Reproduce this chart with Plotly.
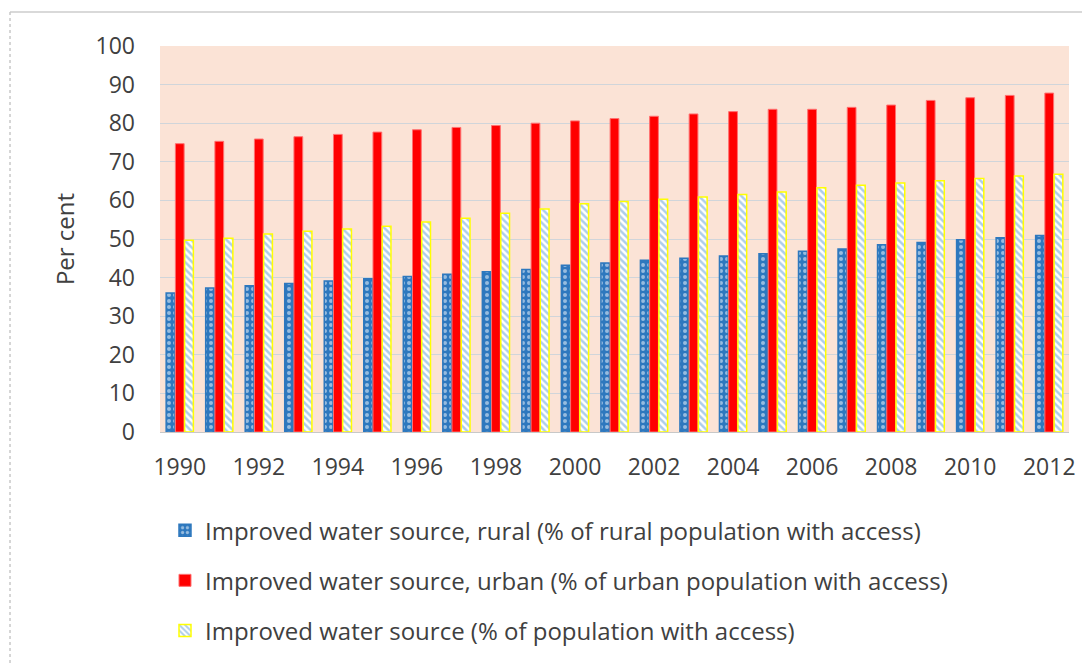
import plotly.graph_objects as go

years = list(range(1990, 2013))
tick_years = list(range(1990, 2013, 2))

rural = [36.0, 37.3, 37.9, 38.5, 39.1, 39.7, 40.3, 40.9, 41.5, 42.1, 43.2, 43.8,
         44.5, 45.0, 45.6, 46.2, 46.8, 47.4, 48.5, 49.1, 49.8, 50.3, 50.9]
urban = [74.7, 75.3, 75.9, 76.5, 77.1, 77.7, 78.3, 78.9, 79.4, 80.0, 80.6, 81.2,
         81.8, 82.4, 83.0, 83.6, 83.6, 84.1, 84.7, 85.9, 86.6, 87.2, 87.8]
total = [49.7, 50.2, 51.3, 52.0, 52.6, 53.3, 54.4, 55.4, 56.7, 57.8, 59.1, 59.7,
         60.3, 60.9, 61.5, 62.2, 63.3, 63.9, 64.5, 65.1, 65.7, 66.3, 66.8]

names = [
    "Improved water source, rural (% of rural population with access)",
    "Improved water source, urban (% of urban population with access)",
    "Improved water source (% of population with access)",
]

FONT = "Open Sans"
TXT = "#404040"

fig = go.Figure()
fig.add_trace(go.Bar(
    x=years, y=rural, name=names[0], legendgroup="a",
    marker=dict(color="#2E78BE", line=dict(color="#2E78BE", width=1.5),
                pattern=dict(shape=".", fillmode="overlay", fgcolor="white",
                             bgcolor="#2E78BE", size=6, solidity=0.35)),
))
fig.add_trace(go.Bar(
    x=years, y=urban, name=names[1], legendgroup="b",
    marker=dict(color="#FF0000", line=dict(color="#FF7070", width=1)),
))
fig.add_trace(go.Bar(
    x=years, y=total, name=names[2], legendgroup="c",
    marker=dict(color="white", line=dict(color="#FFFF00", width=1.5),
                pattern=dict(shape="\\", fillmode="overlay", fgcolor="#5B9BD5",
                             bgcolor="white", size=5, solidity=0.5)),
))

# outer chart frame
fig.add_shape(type="line", xref="paper", yref="paper",
              x0=-0.165, x1=1.1, y0=1.088, y1=1.088,
              line=dict(color="#D9D9D9", width=2))
fig.add_shape(type="line", xref="paper", yref="paper",
              x0=-0.165, x1=-0.165, y0=1.088, y1=-0.7,
              line=dict(color="#C8C8C8", width=1.5, dash="dot"))

fig.update_layout(
    width=1082, height=657,
    margin=dict(l=152, r=21, t=38, b=233),
    paper_bgcolor="white",
    plot_bgcolor="#FBE3D6",
    barmode="group",
    bargap=0.3,
    bargroupgap=0.05,
    font=dict(family=FONT, color=TXT, size=20),
    showlegend=True,
    legend=dict(
        orientation="v", x=0.0055, xanchor="left", y=-0.197, yanchor="top",
        font=dict(family=FONT, size=24, color=TXT),
        tracegroupgap=16, bgcolor="rgba(0,0,0,0)",
    ),
    xaxis=dict(
        tickmode="array", tickvals=tick_years, ticktext=[str(y) for y in tick_years],
        range=[1989.5, 2012.5], showgrid=False, zeroline=False,
        showline=False, ticks="", tickfont=dict(size=23, color=TXT),
        ticklabelstandoff=19,
    ),
    yaxis=dict(
        range=[0, 100], dtick=10, showgrid=True, gridcolor="#D0D5DA", gridwidth=1,
        zeroline=True, zerolinecolor="#C8C8C8", zerolinewidth=1,
        showline=False, ticks="", tickfont=dict(size=23, color=TXT),
        ticklabelstandoff=24,
        title=dict(text="Per cent", font=dict(size=24, color=TXT), standoff=14),
    ),
)

fig.write_html("out.html")
